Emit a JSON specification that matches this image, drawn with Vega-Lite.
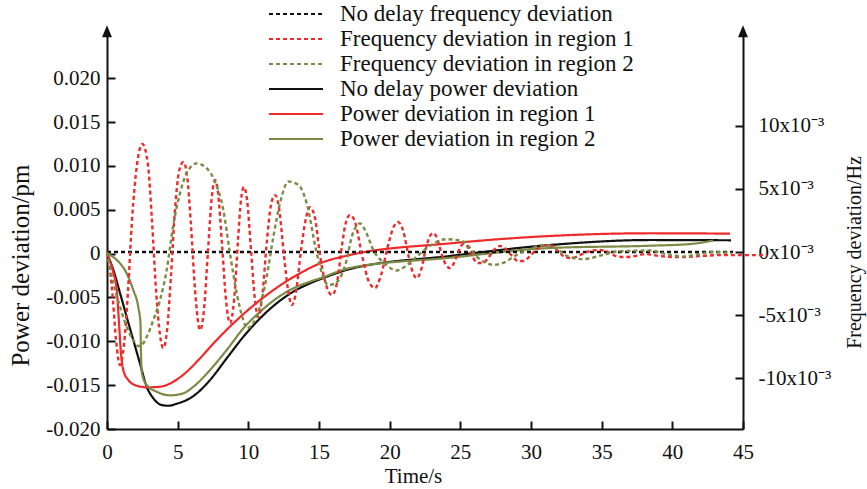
{
  "$schema": "https://vega.github.io/schema/vega-lite/v6.json",
  "width": 636,
  "height": 399,
  "autosize": {"type": "none"},
  "padding": {"left": 107, "top": 30, "right": 124, "bottom": 60},
  "config": {
    "view": {"stroke": null},
    "font": "Liberation Serif",
    "axis": {
      "grid": false,
      "domainColor": "#111111",
      "domainWidth": 2,
      "tickColor": "#111111",
      "tickWidth": 2,
      "tickSize": -8,
      "labelFont": "Liberation Serif",
      "labelFontSize": 21,
      "labelColor": "#111111",
      "labelFlush": false,
      "labelOverlap": false,
      "titleFont": "Liberation Serif",
      "titleFontSize": 21,
      "titleFontWeight": "normal",
      "titleColor": "#111111"
    }
  },
  "datasets": {
    "power": [
      {"t": 0, "p": 0, "series": "No delay power deviation"},
      {"t": 0.45, "p": -0.00187, "series": "No delay power deviation"},
      {"t": 0.92, "p": -0.00449, "series": "No delay power deviation"},
      {"t": 1.39, "p": -0.0072, "series": "No delay power deviation"},
      {"t": 1.86, "p": -0.00985, "series": "No delay power deviation"},
      {"t": 2.33, "p": -0.01251, "series": "No delay power deviation"},
      {"t": 2.81, "p": -0.01518, "series": "No delay power deviation"},
      {"t": 3.28, "p": -0.0165, "series": "No delay power deviation"},
      {"t": 3.87, "p": -0.01727, "series": "No delay power deviation"},
      {"t": 4.34, "p": -0.01735, "series": "No delay power deviation"},
      {"t": 4.93, "p": -0.01712, "series": "No delay power deviation"},
      {"t": 6.11, "p": -0.01625, "series": "No delay power deviation"},
      {"t": 7.29, "p": -0.01441, "series": "No delay power deviation"},
      {"t": 8.47, "p": -0.01194, "series": "No delay power deviation"},
      {"t": 9.65, "p": -0.00948, "series": "No delay power deviation"},
      {"t": 10.83, "p": -0.00738, "series": "No delay power deviation"},
      {"t": 12.0, "p": -0.00567, "series": "No delay power deviation"},
      {"t": 13.18, "p": -0.00434, "series": "No delay power deviation"},
      {"t": 14.36, "p": -0.00339, "series": "No delay power deviation"},
      {"t": 15.07, "p": -0.00293, "series": "No delay power deviation"},
      {"t": 17.19, "p": -0.00176, "series": "No delay power deviation"},
      {"t": 24.27, "p": -0.00027, "series": "No delay power deviation"},
      {"t": 31.34, "p": 0.00098, "series": "No delay power deviation"},
      {"t": 38.42, "p": 0.00155, "series": "No delay power deviation"},
      {"t": 44.15, "p": 0.00152, "series": "No delay power deviation"},

      {"t": 0, "p": 0, "series": "Power deviation in region 1"},
      {"t": 0.45, "p": -0.00221, "series": "Power deviation in region 1"},
      {"t": 0.69, "p": -0.00415, "series": "Power deviation in region 1"},
      {"t": 0.85, "p": -0.00792, "series": "Power deviation in region 1"},
      {"t": 0.97, "p": -0.01099, "series": "Power deviation in region 1"},
      {"t": 1.15, "p": -0.01327, "series": "Power deviation in region 1"},
      {"t": 1.51, "p": -0.01441, "series": "Power deviation in region 1"},
      {"t": 2.1, "p": -0.01506, "series": "Power deviation in region 1"},
      {"t": 2.81, "p": -0.01525, "series": "Power deviation in region 1"},
      {"t": 3.75, "p": -0.01518, "series": "Power deviation in region 1"},
      {"t": 4.69, "p": -0.01461, "series": "Power deviation in region 1"},
      {"t": 5.64, "p": -0.01347, "series": "Power deviation in region 1"},
      {"t": 6.58, "p": -0.01194, "series": "Power deviation in region 1"},
      {"t": 7.76, "p": -0.00985, "series": "Power deviation in region 1"},
      {"t": 8.94, "p": -0.00795, "series": "Power deviation in region 1"},
      {"t": 10.12, "p": -0.00624, "series": "Power deviation in region 1"},
      {"t": 11.3, "p": -0.00472, "series": "Power deviation in region 1"},
      {"t": 12.47, "p": -0.00339, "series": "Power deviation in region 1"},
      {"t": 13.65, "p": -0.00225, "series": "Power deviation in region 1"},
      {"t": 15.07, "p": -0.00111, "series": "Power deviation in region 1"},
      {"t": 17.19, "p": -0.00016, "series": "Power deviation in region 1"},
      {"t": 24.27, "p": 0.00117, "series": "Power deviation in region 1"},
      {"t": 31.34, "p": 0.00201, "series": "Power deviation in region 1"},
      {"t": 38.42, "p": 0.00232, "series": "Power deviation in region 1"},
      {"t": 44.08, "p": 0.00228, "series": "Power deviation in region 1"},

      {"t": 0, "p": 0, "series": "Power deviation in region 2"},
      {"t": 0.69, "p": -0.00073, "series": "Power deviation in region 2"},
      {"t": 1.39, "p": -0.00225, "series": "Power deviation in region 2"},
      {"t": 1.86, "p": -0.00415, "series": "Power deviation in region 2"},
      {"t": 2.21, "p": -0.00606, "series": "Power deviation in region 2"},
      {"t": 2.37, "p": -0.00795, "series": "Power deviation in region 2"},
      {"t": 2.39, "p": -0.00985, "series": "Power deviation in region 2"},
      {"t": 2.41, "p": -0.01176, "series": "Power deviation in region 2"},
      {"t": 2.47, "p": -0.01365, "series": "Power deviation in region 2"},
      {"t": 2.81, "p": -0.01498, "series": "Power deviation in region 2"},
      {"t": 3.52, "p": -0.01575, "series": "Power deviation in region 2"},
      {"t": 4.46, "p": -0.01616, "series": "Power deviation in region 2"},
      {"t": 5.4, "p": -0.01593, "series": "Power deviation in region 2"},
      {"t": 6.11, "p": -0.01518, "series": "Power deviation in region 2"},
      {"t": 7.29, "p": -0.01327, "series": "Power deviation in region 2"},
      {"t": 8.47, "p": -0.01099, "series": "Power deviation in region 2"},
      {"t": 9.65, "p": -0.00852, "series": "Power deviation in region 2"},
      {"t": 10.83, "p": -0.00663, "series": "Power deviation in region 2"},
      {"t": 12.0, "p": -0.0051, "series": "Power deviation in region 2"},
      {"t": 13.18, "p": -0.00396, "series": "Power deviation in region 2"},
      {"t": 14.36, "p": -0.0032, "series": "Power deviation in region 2"},
      {"t": 15.07, "p": -0.00282, "series": "Power deviation in region 2"},
      {"t": 17.19, "p": -0.00164, "series": "Power deviation in region 2"},
      {"t": 24.27, "p": -0.00047, "series": "Power deviation in region 2"},
      {"t": 31.34, "p": 0.00064, "series": "Power deviation in region 2"},
      {"t": 38.42, "p": 0.0009, "series": "Power deviation in region 2"},
      {"t": 41.25, "p": 0.00109, "series": "Power deviation in region 2"},
      {"t": 42.88, "p": 0.00149, "series": "Power deviation in region 2"}
    ],
    "freq": [
      {"t": 0, "f": 0, "series": "No delay frequency deviation"},
      {"t": 44.3, "f": 0, "series": "No delay frequency deviation"},

      {"t": 0, "f": 0, "series": "Frequency deviation in region 1"},
      {"t": 0.21, "f": -0.00143, "series": "Frequency deviation in region 1"},
      {"t": 0.42, "f": -0.0038, "series": "Frequency deviation in region 1"},
      {"t": 0.64, "f": -0.00697, "series": "Frequency deviation in region 1"},
      {"t": 0.92, "f": -0.00895, "series": "Frequency deviation in region 1"},
      {"t": 1.2, "f": -0.00736, "series": "Frequency deviation in region 1"},
      {"t": 1.49, "f": -0.00301, "series": "Frequency deviation in region 1"},
      {"t": 1.77, "f": 0.00253, "series": "Frequency deviation in region 1"},
      {"t": 2.12, "f": 0.00689, "series": "Frequency deviation in region 1"},
      {"t": 2.51, "f": 0.00855, "series": "Frequency deviation in region 1"},
      {"t": 2.9, "f": 0.00689, "series": "Frequency deviation in region 1"},
      {"t": 3.18, "f": 0.00253, "series": "Frequency deviation in region 1"},
      {"t": 3.47, "f": -0.00301, "series": "Frequency deviation in region 1"},
      {"t": 3.75, "f": -0.00657, "series": "Frequency deviation in region 1"},
      {"t": 3.98, "f": -0.0076, "series": "Frequency deviation in region 1"},
      {"t": 4.25, "f": -0.00618, "series": "Frequency deviation in region 1"},
      {"t": 4.53, "f": -0.00182, "series": "Frequency deviation in region 1"},
      {"t": 4.81, "f": 0.00333, "series": "Frequency deviation in region 1"},
      {"t": 5.09, "f": 0.00633, "series": "Frequency deviation in region 1"},
      {"t": 5.4, "f": 0.00713, "series": "Frequency deviation in region 1"},
      {"t": 5.66, "f": 0.0061, "series": "Frequency deviation in region 1"},
      {"t": 5.94, "f": 0.00214, "series": "Frequency deviation in region 1"},
      {"t": 6.23, "f": -0.00301, "series": "Frequency deviation in region 1"},
      {"t": 6.58, "f": -0.00618, "series": "Frequency deviation in region 1"},
      {"t": 6.86, "f": -0.00459, "series": "Frequency deviation in region 1"},
      {"t": 7.15, "f": 0.00016, "series": "Frequency deviation in region 1"},
      {"t": 7.43, "f": 0.00451, "series": "Frequency deviation in region 1"},
      {"t": 7.64, "f": 0.0057, "series": "Frequency deviation in region 1"},
      {"t": 7.85, "f": 0.00475, "series": "Frequency deviation in region 1"},
      {"t": 8.14, "f": 0.00055, "series": "Frequency deviation in region 1"},
      {"t": 8.42, "f": -0.0038, "series": "Frequency deviation in region 1"},
      {"t": 8.7, "f": -0.00562, "series": "Frequency deviation in region 1"},
      {"t": 8.99, "f": -0.0038, "series": "Frequency deviation in region 1"},
      {"t": 9.27, "f": 0.00095, "series": "Frequency deviation in region 1"},
      {"t": 9.48, "f": 0.00412, "series": "Frequency deviation in region 1"},
      {"t": 9.69, "f": 0.00515, "series": "Frequency deviation in region 1"},
      {"t": 9.91, "f": 0.00412, "series": "Frequency deviation in region 1"},
      {"t": 10.19, "f": 0.00016, "series": "Frequency deviation in region 1"},
      {"t": 10.47, "f": -0.0038, "series": "Frequency deviation in region 1"},
      {"t": 10.71, "f": -0.00515, "series": "Frequency deviation in region 1"},
      {"t": 10.97, "f": -0.00364, "series": "Frequency deviation in region 1"},
      {"t": 11.32, "f": 0.00095, "series": "Frequency deviation in region 1"},
      {"t": 11.6, "f": 0.00372, "series": "Frequency deviation in region 1"},
      {"t": 11.89, "f": 0.00451, "series": "Frequency deviation in region 1"},
      {"t": 12.17, "f": 0.00348, "series": "Frequency deviation in region 1"},
      {"t": 12.52, "f": -0.00024, "series": "Frequency deviation in region 1"},
      {"t": 12.81, "f": -0.00301, "series": "Frequency deviation in region 1"},
      {"t": 13.09, "f": -0.0042, "series": "Frequency deviation in region 1"},
      {"t": 13.37, "f": -0.00317, "series": "Frequency deviation in region 1"},
      {"t": 13.73, "f": 0.00016, "series": "Frequency deviation in region 1"},
      {"t": 14.08, "f": 0.00269, "series": "Frequency deviation in region 1"},
      {"t": 14.36, "f": 0.00356, "series": "Frequency deviation in region 1"},
      {"t": 14.72, "f": 0.00269, "series": "Frequency deviation in region 1"},
      {"t": 15.07, "f": -0.00024, "series": "Frequency deviation in region 1"},
      {"t": 15.5, "f": -0.00261, "series": "Frequency deviation in region 1"},
      {"t": 15.92, "f": -0.0034, "series": "Frequency deviation in region 1"},
      {"t": 16.27, "f": -0.00245, "series": "Frequency deviation in region 1"},
      {"t": 16.63, "f": 0.00055, "series": "Frequency deviation in region 1"},
      {"t": 16.91, "f": 0.00238, "series": "Frequency deviation in region 1"},
      {"t": 17.19, "f": 0.00293, "series": "Frequency deviation in region 1"},
      {"t": 17.55, "f": 0.00238, "series": "Frequency deviation in region 1"},
      {"t": 18.04, "f": -0.00024, "series": "Frequency deviation in region 1"},
      {"t": 18.54, "f": -0.00238, "series": "Frequency deviation in region 1"},
      {"t": 18.96, "f": -0.00285, "series": "Frequency deviation in region 1"},
      {"t": 19.39, "f": -0.00182, "series": "Frequency deviation in region 1"},
      {"t": 19.89, "f": 0.00055, "series": "Frequency deviation in region 1"},
      {"t": 20.31, "f": 0.00206, "series": "Frequency deviation in region 1"},
      {"t": 20.59, "f": 0.00238, "series": "Frequency deviation in region 1"},
      {"t": 20.94, "f": 0.00174, "series": "Frequency deviation in region 1"},
      {"t": 21.37, "f": -0.00048, "series": "Frequency deviation in region 1"},
      {"t": 21.65, "f": -0.00166, "series": "Frequency deviation in region 1"},
      {"t": 21.93, "f": -0.00206, "series": "Frequency deviation in region 1"},
      {"t": 22.22, "f": -0.00143, "series": "Frequency deviation in region 1"},
      {"t": 22.57, "f": 0.00032, "series": "Frequency deviation in region 1"},
      {"t": 22.85, "f": 0.00127, "series": "Frequency deviation in region 1"},
      {"t": 23.09, "f": 0.0015, "series": "Frequency deviation in region 1"},
      {"t": 23.35, "f": 0.00111, "series": "Frequency deviation in region 1"},
      {"t": 23.7, "f": -0.00024, "series": "Frequency deviation in region 1"},
      {"t": 23.99, "f": -0.00103, "series": "Frequency deviation in region 1"},
      {"t": 24.27, "f": -0.00127, "series": "Frequency deviation in region 1"},
      {"t": 24.55, "f": -0.00087, "series": "Frequency deviation in region 1"},
      {"t": 24.91, "f": 0.00016, "series": "Frequency deviation in region 1"},
      {"t": 25.19, "f": 0.00063, "series": "Frequency deviation in region 1"},
      {"t": 25.47, "f": 0.00048, "series": "Frequency deviation in region 1"},
      {"t": 25.83, "f": -0.00032, "series": "Frequency deviation in region 1"},
      {"t": 26.25, "f": -0.00087, "series": "Frequency deviation in region 1"},
      {"t": 26.6, "f": -0.00087, "series": "Frequency deviation in region 1"},
      {"t": 26.96, "f": -0.00048, "series": "Frequency deviation in region 1"},
      {"t": 27.38, "f": 0.00016, "series": "Frequency deviation in region 1"},
      {"t": 27.81, "f": 0.00048, "series": "Frequency deviation in region 1"},
      {"t": 28.23, "f": 0.00024, "series": "Frequency deviation in region 1"},
      {"t": 28.66, "f": -0.0003, "series": "Frequency deviation in region 1"},
      {"t": 29.08, "f": -0.00071, "series": "Frequency deviation in region 1"},
      {"t": 29.43, "f": -0.00071, "series": "Frequency deviation in region 1"},
      {"t": 29.93, "f": -0.00032, "series": "Frequency deviation in region 1"},
      {"t": 30.42, "f": 0.00024, "series": "Frequency deviation in region 1"},
      {"t": 30.99, "f": 0.00055, "series": "Frequency deviation in region 1"},
      {"t": 31.49, "f": 0.00048, "series": "Frequency deviation in region 1"},
      {"t": 31.91, "f": 0.00008, "series": "Frequency deviation in region 1"},
      {"t": 32.41, "f": -0.0004, "series": "Frequency deviation in region 1"},
      {"t": 32.9, "f": -0.00048, "series": "Frequency deviation in region 1"},
      {"t": 33.47, "f": -0.00024, "series": "Frequency deviation in region 1"},
      {"t": 34.17, "f": 0.00008, "series": "Frequency deviation in region 1"},
      {"t": 34.88, "f": 0.00016, "series": "Frequency deviation in region 1"},
      {"t": 35.45, "f": 0, "series": "Frequency deviation in region 1"},
      {"t": 36.01, "f": -0.00032, "series": "Frequency deviation in region 1"},
      {"t": 36.65, "f": -0.0004, "series": "Frequency deviation in region 1"},
      {"t": 37.36, "f": -0.00032, "series": "Frequency deviation in region 1"},
      {"t": 38.07, "f": -0.00016, "series": "Frequency deviation in region 1"},
      {"t": 39.13, "f": -0.00032, "series": "Frequency deviation in region 1"},
      {"t": 40.54, "f": -0.0004, "series": "Frequency deviation in region 1"},
      {"t": 41.96, "f": -0.00032, "series": "Frequency deviation in region 1"},
      {"t": 43.37, "f": -0.00024, "series": "Frequency deviation in region 1"},
      {"t": 44.79, "f": -0.00024, "series": "Frequency deviation in region 1"},
      {"t": 46.7, "f": -0.00024, "series": "Frequency deviation in region 1"},

      {"t": 0, "f": 0, "series": "Frequency deviation in region 2"},
      {"t": 0.45, "f": -0.00248, "series": "Frequency deviation in region 2"},
      {"t": 0.92, "f": -0.00433, "series": "Frequency deviation in region 2"},
      {"t": 1.39, "f": -0.00591, "series": "Frequency deviation in region 2"},
      {"t": 1.86, "f": -0.00697, "series": "Frequency deviation in region 2"},
      {"t": 2.21, "f": -0.00744, "series": "Frequency deviation in region 2"},
      {"t": 2.46, "f": -0.00736, "series": "Frequency deviation in region 2"},
      {"t": 2.81, "f": -0.00671, "series": "Frequency deviation in region 2"},
      {"t": 3.28, "f": -0.00538, "series": "Frequency deviation in region 2"},
      {"t": 3.75, "f": -0.0038, "series": "Frequency deviation in region 2"},
      {"t": 4.22, "f": -0.00143, "series": "Frequency deviation in region 2"},
      {"t": 4.69, "f": 0.00214, "series": "Frequency deviation in region 2"},
      {"t": 5.17, "f": 0.00467, "series": "Frequency deviation in region 2"},
      {"t": 5.64, "f": 0.00625, "series": "Frequency deviation in region 2"},
      {"t": 6.35, "f": 0.00702, "series": "Frequency deviation in region 2"},
      {"t": 7.05, "f": 0.00664, "series": "Frequency deviation in region 2"},
      {"t": 7.64, "f": 0.00557, "series": "Frequency deviation in region 2"},
      {"t": 8.23, "f": 0.00333, "series": "Frequency deviation in region 2"},
      {"t": 8.7, "f": -0.0001, "series": "Frequency deviation in region 2"},
      {"t": 9.18, "f": -0.00327, "series": "Frequency deviation in region 2"},
      {"t": 9.64, "f": -0.00538, "series": "Frequency deviation in region 2"},
      {"t": 9.91, "f": -0.00606, "series": "Frequency deviation in region 2"},
      {"t": 10.26, "f": -0.00576, "series": "Frequency deviation in region 2"},
      {"t": 10.59, "f": -0.00512, "series": "Frequency deviation in region 2"},
      {"t": 11.3, "f": -0.00196, "series": "Frequency deviation in region 2"},
      {"t": 11.77, "f": 0.00121, "series": "Frequency deviation in region 2"},
      {"t": 12.24, "f": 0.00386, "series": "Frequency deviation in region 2"},
      {"t": 12.83, "f": 0.00558, "series": "Frequency deviation in region 2"},
      {"t": 13.54, "f": 0.00532, "series": "Frequency deviation in region 2"},
      {"t": 14.13, "f": 0.00386, "series": "Frequency deviation in region 2"},
      {"t": 14.84, "f": -0.0001, "series": "Frequency deviation in region 2"},
      {"t": 15.3, "f": -0.00196, "series": "Frequency deviation in region 2"},
      {"t": 15.64, "f": -0.00261, "series": "Frequency deviation in region 2"},
      {"t": 16.06, "f": -0.00253, "series": "Frequency deviation in region 2"},
      {"t": 16.96, "f": -0.00062, "series": "Frequency deviation in region 2"},
      {"t": 17.33, "f": 0.00127, "series": "Frequency deviation in region 2"},
      {"t": 17.9, "f": 0.00227, "series": "Frequency deviation in region 2"},
      {"t": 18.32, "f": 0.0016, "series": "Frequency deviation in region 2"},
      {"t": 18.84, "f": 0.00017, "series": "Frequency deviation in region 2"},
      {"t": 19.67, "f": -0.00093, "series": "Frequency deviation in region 2"},
      {"t": 20.5, "f": -0.00146, "series": "Frequency deviation in region 2"},
      {"t": 21.16, "f": -0.00109, "series": "Frequency deviation in region 2"},
      {"t": 21.91, "f": -0.00037, "series": "Frequency deviation in region 2"},
      {"t": 22.85, "f": 0.00049, "series": "Frequency deviation in region 2"},
      {"t": 24.04, "f": 0.00102, "series": "Frequency deviation in region 2"},
      {"t": 25.22, "f": 0.00083, "series": "Frequency deviation in region 2"},
      {"t": 26.16, "f": -0.00037, "series": "Frequency deviation in region 2"},
      {"t": 27.33, "f": -0.00101, "series": "Frequency deviation in region 2"},
      {"t": 28.16, "f": -0.00079, "series": "Frequency deviation in region 2"},
      {"t": 28.99, "f": -0.00022, "series": "Frequency deviation in region 2"},
      {"t": 29.93, "f": 0.00024, "series": "Frequency deviation in region 2"},
      {"t": 30.87, "f": 0.00055, "series": "Frequency deviation in region 2"},
      {"t": 31.58, "f": 0.00042, "series": "Frequency deviation in region 2"},
      {"t": 32.53, "f": -0.0003, "series": "Frequency deviation in region 2"},
      {"t": 33.7, "f": -0.00056, "series": "Frequency deviation in region 2"},
      {"t": 35.12, "f": -0.00022, "series": "Frequency deviation in region 2"},
      {"t": 36.06, "f": 0.00004, "series": "Frequency deviation in region 2"},
      {"t": 38.42, "f": 0.00012, "series": "Frequency deviation in region 2"},
      {"t": 39.48, "f": -0.00014, "series": "Frequency deviation in region 2"},
      {"t": 40.75, "f": -0.00036, "series": "Frequency deviation in region 2"},
      {"t": 41.96, "f": -0.00014, "series": "Frequency deviation in region 2"},
      {"t": 42.88, "f": 0, "series": "Frequency deviation in region 2"},
      {"t": 44.2, "f": -0.00009, "series": "Frequency deviation in region 2"}
    ],
    "arrows": [
      {"t": 0, "p": 0.02535},
      {"t": 45, "p": 0.02535}
    ]
  },
  "layer": [
    {
      "data": {"name": "power"},
      "mark": {"type": "line", "strokeWidth": 2.2, "interpolate": "monotone"},
      "encoding": {
        "x": {
          "field": "t", "type": "quantitative",
          "scale": {"domain": [0, 45], "nice": false, "zero": false},
          "axis": {
            "values": [0, 5, 10, 15, 20, 25, 30, 35, 40, 45],
            "labelPadding": 20,
            "title": "Time/s",
            "titleX": 306,
            "titleY": 53,
            "titleFontSize": 21,
            "titleBaseline": "alphabetic",
            "titleAlign": "center"
          }
        },
        "y": {
          "field": "p", "type": "quantitative",
          "scale": {"domain": [-0.02, 0.0255], "nice": false, "zero": false},
          "axis": {
            "orient": "left",
            "values": [-0.02, -0.015, -0.01, -0.005, 0, 0.005, 0.01, 0.015, 0.02],
            "labelExpr": "datum.value == 0 ? '0' : (datum.value < 0 ? '-' : '') + format(abs(datum.value), '.3f')",
            "labelPadding": 15,
            "labelBaseline": "middle",
            "title": "Power deviation/pm",
            "titleFontSize": 25,
            "titleX": -87,
            "titleY": 235,
            "titleAngle": 270,
            "titleBaseline": "middle",
            "titleAlign": "center"
          }
        },
        "color": {
          "field": "series", "type": "nominal",
          "scale": {
            "domain": ["No delay frequency deviation", "Frequency deviation in region 1", "Frequency deviation in region 2", "No delay power deviation", "Power deviation in region 1", "Power deviation in region 2"],
            "range": ["#111111", "#ee2a2a", "#7b8b45", "#111111", "#ee2a2a", "#7b8b45"]
          },
          "legend": {
            "orient": "none", "legendX": 176, "legendY": -29, "title": null, "direction": "vertical",
            "symbolType": "M-2.25,0H2.25", "symbolSize": 576, "symbolStrokeWidth": 2,
            "labelFont": "Liberation Serif", "labelFontSize": 23, "labelColor": "#111111",
            "labelOffset": 31, "labelLimit": 600, "rowPadding": 0, "padding": 0
          }
        },
        "strokeDash": {
          "field": "series", "type": "nominal",
          "scale": {
            "domain": ["No delay frequency deviation", "Frequency deviation in region 1", "Frequency deviation in region 2", "No delay power deviation", "Power deviation in region 1", "Power deviation in region 2"],
            "range": [[4, 3], [4, 3], [4, 3], [1, 0], [1, 0], [1, 0]]
          },
          "legend": {
            "orient": "none", "legendX": 176, "legendY": -29, "title": null, "direction": "vertical",
            "symbolType": "M-2.25,0H2.25", "symbolSize": 576, "symbolStrokeWidth": 2,
            "labelFont": "Liberation Serif", "labelFontSize": 23, "labelColor": "#111111",
            "labelOffset": 31, "labelLimit": 600, "rowPadding": 0, "padding": 0
          }
        }
      }
    },
    {
      "data": {"name": "freq"},
      "mark": {"type": "line", "strokeWidth": 2.4, "interpolate": "monotone"},
      "encoding": {
        "x": {"field": "t", "type": "quantitative", "scale": {"domain": [0, 45], "nice": false, "zero": false}},
        "y": {
          "field": "f", "type": "quantitative",
          "scale": {"domain": [-0.01401, 0.01758], "nice": false, "zero": false},
          "axis": {
            "orient": "right",
            "values": [-0.01, -0.005, 0, 0.005, 0.01],
            "labelExpr": "(datum.value < 0 ? '-' : '') + round(abs(datum.value) * 1000) + 'x10⁻³'",
            "labelPadding": 23,
            "labelAlign": "left",
            "labelBaseline": "middle",
            "title": "Frequency deviation/Hz",
            "titleFontSize": 20,
            "titleX": 111,
            "titleY": 222,
            "titleAngle": 270,
            "titleBaseline": "middle",
            "titleAlign": "center"
          }
        },
        "color": {"field": "series", "type": "nominal"},
        "strokeDash": {"field": "series", "type": "nominal"}
      }
    },
    {
      "data": {"name": "arrows"},
      "mark": {"type": "point", "shape": "M0,-1L0.83,1L-0.83,1Z", "filled": true, "color": "#111111", "size": 144, "opacity": 1},
      "encoding": {
        "x": {"field": "t", "type": "quantitative", "scale": {"domain": [0, 45], "nice": false, "zero": false}},
        "y": {"field": "p", "type": "quantitative", "scale": {"domain": [-0.02, 0.0255], "nice": false, "zero": false}, "axis": null}
      }
    }
  ],
  "resolve": {"scale": {"y": "independent"}}
}
